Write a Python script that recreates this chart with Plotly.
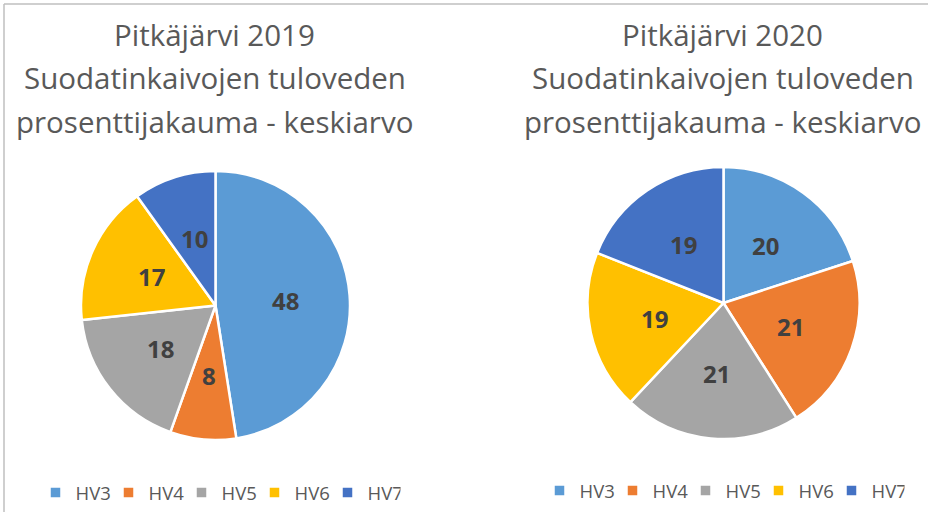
import math
import plotly.graph_objects as go

labels = ["HV3", "HV4", "HV5", "HV6", "HV7"]
values_2019 = [48, 8, 18, 17, 10]
values_2020 = [20, 21, 21, 19, 19]
colors = ["#5B9BD5", "#ED7D31", "#A5A5A5", "#FFC000", "#4472C4"]

title_2019 = ["Pitkäjärvi 2019", "Suodatinkaivojen tuloveden", "prosenttijakauma - keskiarvo"]
title_2020 = ["Pitkäjärvi 2020", "Suodatinkaivojen tuloveden", "prosenttijakauma - keskiarvo"]

W, H = 928, 512
FONT = "Open Sans"

# pie placement in pixels: centre x, centre y, radius
pies = [
    (values_2019, title_2019, 215.5, 305.5, 134.5, "legend", labels),
    # trailing space keeps the second legend from being merged with the first
    (values_2020, title_2020, 723.5, 303.0, 136.0, "legend2", [l + " " for l in labels]),
]

fig = go.Figure()
for values, title, cx, cy, r, legend, labs in pies:
    fig.add_trace(go.Pie(
        labels=labs,
        values=values,
        sort=False,
        direction="clockwise",
        rotation=0,
        marker=dict(colors=colors, line=dict(color="white", width=2.5)),
        textinfo="none",
        domain=dict(x=[(cx - r) / W, (cx + r) / W], y=[(H - cy - r) / H, (H - cy + r) / H]),
        legend=legend,
        hoverinfo="label+value",
    ))

    # value labels, Excel style at about half the radius
    total = sum(values)
    start = 0.0
    for v in values:
        mid = (start + v / 2) / total * 2 * math.pi
        start += v
        tx = cx + 0.52 * r * math.sin(mid)
        ty = cy - 0.52 * r * math.cos(mid)
        fig.add_annotation(
            text=f"<b>{v}</b>", x=tx / W, y=(H - ty) / H,
            xref="paper", yref="paper", showarrow=False,
            xanchor="center", yanchor="middle",
            font=dict(family=FONT, size=24, color="#404040"),
        )

    # titles, one annotation per line so the spacing matches
    for i, line in enumerate(title):
        fig.add_annotation(
            text=line, x=(cx - 1) / W, y=(H - (34 + 43.5 * i)) / H,
            xref="paper", yref="paper", showarrow=False,
            xanchor="center", yanchor="middle",
            font=dict(family=FONT, size=29.5, color="#595959"),
        )

legend_style = dict(
    orientation="h", yanchor="middle", xanchor="center",
    font=dict(family=FONT, size=18.5, color="#595959"),
    bgcolor="rgba(0,0,0,0)", itemclick=False, itemdoubleclick=False,
    entrywidth=28, entrywidthmode="pixels", itemwidth=30,
)

fig.update_layout(
    width=W, height=H,
    margin=dict(l=0, r=0, t=0, b=0),
    paper_bgcolor="white",
    showlegend=True,
    legend=dict(x=218 / W, y=(H - 493) / H, **legend_style),
    legend2=dict(x=722 / W, y=(H - 491) / H, **legend_style),
    shapes=[
        dict(type="line", xref="paper", yref="paper", x0=4 / W, x1=1, y0=(H - 4) / H, y1=(H - 4) / H,
             line=dict(color="#BFBFBF", width=1.5)),
        dict(type="line", xref="paper", yref="paper", x0=4 / W, x1=4 / W, y0=0, y1=(H - 4) / H,
             line=dict(color="#BFBFBF", width=1.5)),
    ],
)

fig.write_html("out.html", config={"displayModeBar": False},
               post_script="document.body.style.margin='0';")
